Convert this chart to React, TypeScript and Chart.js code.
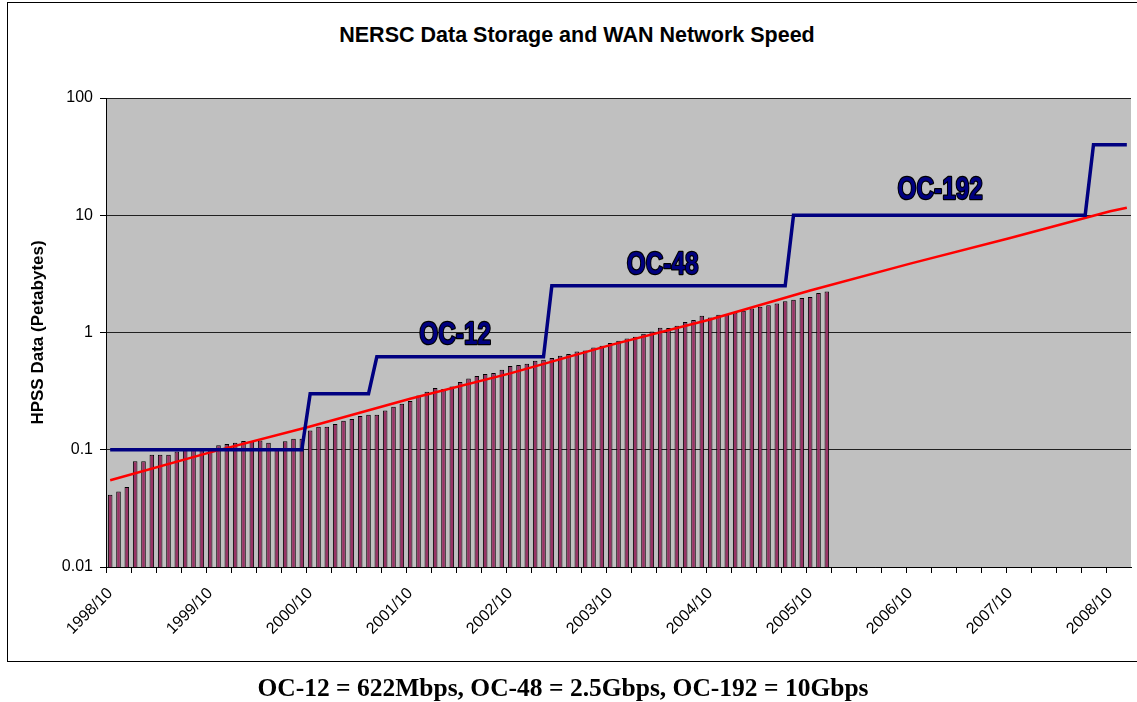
import React, { useEffect, useRef } from 'react';
import { Chart, registerables } from 'chart.js';

Chart.register(...registerables);

// ---- categories (monthly, 1998/10 .. 2008/12) ----
const START_YEAR = 1998;
const START_MONTH = 10;
const MONTH_COUNT = 123;
const months: string[] = [];
for (let i = 0; i < MONTH_COUNT; i++) {
  const m0 = START_MONTH - 1 + i;
  const y = START_YEAR + Math.floor(m0 / 12);
  const m = (m0 % 12) + 1;
  months.push(`${y}/${String(m).padStart(2, '0')}`);
}

// ---- HPSS data (petabytes), monthly bars 1998/10 .. 2005/12 ----
const storagePB = [
  0.0413, 0.0441, 0.0481, 0.0796, 0.0796, 0.0906, 0.0906, 0.0906, 0.0968, 0.1,
  0.1, 0.102, 0.103, 0.109, 0.112, 0.115, 0.119, 0.119, 0.12, 0.115,
  0.1, 0.118, 0.124, 0.124, 0.146, 0.157, 0.157, 0.166, 0.177, 0.183,
  0.194, 0.199, 0.199, 0.216, 0.233, 0.247, 0.26, 0.29, 0.312, 0.336,
  0.329, 0.347, 0.378, 0.406, 0.425, 0.442, 0.451, 0.481, 0.517, 0.527,
  0.541, 0.574, 0.586, 0.605, 0.634, 0.655, 0.69, 0.703, 0.746, 0.771,
  0.813, 0.851, 0.89, 0.92, 0.976, 1.02, 1.1, 1.09, 1.14, 1.23,
  1.28, 1.39, 1.34, 1.42, 1.44, 1.48, 1.53, 1.6, 1.66, 1.71,
  1.77, 1.85, 1.9, 1.97, 2.01, 2.17, 2.24,
];

// ---- WAN network speed step line (breakpoints) ----
const speedIdx = [0, 23, 24, 31, 32, 52, 53, 81, 82, 117, 118, 122];
const speedVal = [0.1, 0.1, 0.3, 0.3, 0.62, 0.62, 2.5, 2.5, 10, 10, 40, 40];

// ---- exponential trend line (read at each October, plus end) ----
const trendIdx = [0, 12, 24, 36, 48, 60, 72, 84, 96, 108, 120, 122];
const trendVal = [0.055, 0.095, 0.158, 0.272, 0.448, 0.78, 1.29, 2.28, 3.87, 6.4, 10.8, 11.6];

// ---- axis ticks ----
const yTicks = [0.01, 0.1, 1, 10, 100];

// ---- in-plot labels ----
const ocLabels = ['OC-12', 'OC-48', 'OC-192'];
const ocIdx = [41.4, 66.3, 99.6];
const ocVal = [1.0, 3.95, 17.1];

const FONT = "'Liberation Sans', Arial, sans-serif";

function sparse(idx: number[], vals: number[]): (number | null)[] {
  const arr: (number | null)[] = new Array(MONTH_COUNT).fill(null);
  idx.forEach((i, k) => {
    arr[i] = vals[k];
  });
  return arr;
}

const plotBg = {
  id: 'plotBg',
  beforeDraw(chart: any) {
    const { ctx, chartArea } = chart;
    ctx.save();
    ctx.fillStyle = '#C0C0C0';
    ctx.fillRect(chartArea.left, chartArea.top, chartArea.right - chartArea.left, chartArea.bottom - chartArea.top);
    ctx.restore();
  },
};

const ocPlugin = {
  id: 'ocLabels',
  afterDatasetsDraw(chart: any) {
    const { ctx } = chart;
    const xs = chart.scales.x;
    const ys = chart.scales.y;
    const size = 32;
    ctx.save();
    ocLabels.forEach((t, k) => {
      const x = xs.getPixelForValue(ocIdx[k]);
      const y = ys.getPixelForValue(ocVal[k]);
      ctx.save();
      ctx.translate(x, y + size * 0.358);
      ctx.scale(0.76, 1);
      ctx.font = `bold ${size}px ${FONT}`;
      ctx.textAlign = 'center';
      ctx.textBaseline = 'alphabetic';
      ctx.lineJoin = 'round';
      ctx.lineWidth = 2.5;
      ctx.strokeStyle = '#000000';
      ctx.strokeText(t, 0, 0);
      ctx.fillStyle = '#000080';
      ctx.fillText(t, 0, 0);
      ctx.restore();
    });
    ctx.restore();
  },
};

export default function App() {
  const canvasRef = useRef<HTMLCanvasElement | null>(null);

  useEffect(() => {
    if (!canvasRef.current) return;
    Chart.defaults.font.family = FONT;
    Chart.defaults.color = '#000';
    const chart = new Chart(canvasRef.current, {
      type: 'bar',
      data: {
        labels: months,
        datasets: [
          {
            type: 'line',
            label: 'WAN Network Speed',
            data: sparse(speedIdx, speedVal),
            borderColor: '#000080',
            borderWidth: 3.5,
            pointRadius: 0,
            tension: 0,
            spanGaps: true,
            order: 1,
          } as any,
          {
            type: 'line',
            label: 'Trend',
            data: sparse(trendIdx, trendVal),
            borderColor: '#FF0000',
            borderWidth: 2.5,
            pointRadius: 0,
            tension: 0,
            spanGaps: true,
            order: 2,
          } as any,
          {
            type: 'bar',
            label: 'HPSS Data',
            data: storagePB,
            backgroundColor: '#993366',
            borderColor: '#000000',
            borderWidth: 1,
            barPercentage: 0.55,
            categoryPercentage: 1,
            order: 3,
          } as any,
        ],
      },
      options: {
        responsive: false,
        animation: false,
        events: [],
        layout: { padding: { left: 8, right: 6, top: 98, bottom: 55 } },
        plugins: {
          legend: { display: false },
          tooltip: { enabled: false },
          title: { display: false },
        },
        scales: {
          x: {
            type: 'category',
            offset: true,
            grid: {
              offset: true,
              drawOnChartArea: false,
              drawTicks: true,
              tickLength: 6,
              color: (c: any) => (c.index % 3 === 0 ? '#000' : 'rgba(0,0,0,0)'),
            },
            border: { display: true, color: '#000', width: 1 },
            ticks: {
              autoSkip: false,
              minRotation: 45,
              maxRotation: 45,
              padding: 11,
              font: { size: 16 },
              color: '#000',
              callback: (_v: any, i: number) => (i % 12 === 0 ? months[i] : ''),
            },
            afterFit: (s: any) => {
              s.height = 80;
              s.paddingLeft = 0;
              s.paddingRight = 0;
            },
          },
          y: {
            type: 'logarithmic',
            min: 0.01,
            max: 100,
            afterBuildTicks: (s: any) => {
              s.ticks = yTicks.map((v) => ({ value: v }));
            },
            grid: {
              color: '#202020',
              lineWidth: 1,
              drawTicks: true,
              tickLength: 6,
              tickColor: '#000',
            },
            border: { display: true, color: '#000', width: 1 },
            ticks: {
              padding: 7,
              font: { size: 16 },
              color: '#000',
              callback: (v: any) => String(v),
            },
            title: {
              display: true,
              text: 'HPSS Data (Petabytes)',
              font: { size: 17, weight: 'bold' },
              color: '#000',
              padding: { top: 20, bottom: 0 },
            },
            afterFit: (s: any) => {
              s.width = 98;
            },
          },
        },
      },
      plugins: [plotBg, ocPlugin],
    } as any);
    return () => chart.destroy();
  }, []);

  return (
    <div
      style={{
        position: 'fixed',
        left: 0,
        top: 0,
        width: 1137,
        height: 702,
        overflow: 'hidden',
        background: '#fff',
      }}
    >
      <div
        style={{
          position: 'absolute',
          left: 7,
          top: 2,
          width: 1140,
          height: 658,
          borderTop: '1px solid #000',
          borderLeft: '1px solid #000',
          borderBottom: '1px solid #000',
          borderRight: 'none',
        }}
      />
      <div
        style={{
          position: 'absolute',
          left: 577,
          top: 25,
          transform: 'translateX(-50%)',
          whiteSpace: 'nowrap',
          fontFamily: FONT,
          fontWeight: 'bold',
          fontSize: 21.5,
          lineHeight: '21.5px',
          color: '#000',
        }}
      >
        NERSC Data Storage and WAN Network Speed
      </div>
      <canvas
        ref={canvasRef}
        width={1137}
        height={702}
        style={{ position: 'absolute', left: 0, top: 0, width: 1137, height: 702 }}
      />
      <div
        style={{
          position: 'absolute',
          left: 563,
          top: 675,
          transform: 'translateX(-50%)',
          whiteSpace: 'nowrap',
          fontFamily: "'Liberation Serif', 'Times New Roman', serif",
          fontWeight: 'bold',
          fontSize: 25.5,
          lineHeight: '25.5px',
          color: '#000',
        }}
      >
        OC-12 = 622Mbps, OC-48 = 2.5Gbps, OC-192 = 10Gbps
      </div>
    </div>
  );
}
